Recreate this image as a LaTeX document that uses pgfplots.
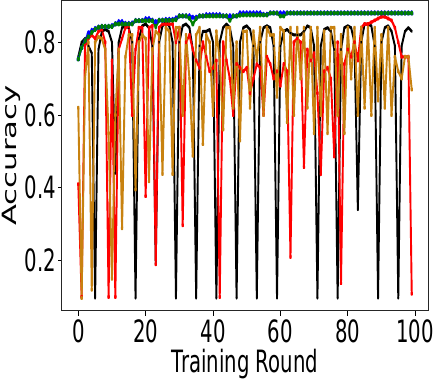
\documentclass[border=0pt]{standalone}
\usepackage{fontspec}
\setmainfont{DejaVu Sans}
\usepackage{graphicx}
\usepackage{pgfplots}
\usepackage{pgfplotstable}
\pgfplotsset{compat=1.18}
\definecolor{gold}{RGB}{200,130,16}

\pgfplotstableread{
i blue green black red orange
0 0.754 0.754 0.76 0.41 0.62
1 0.785 0.785 0.80 0.10 0.097
2 0.804 0.804 0.81 0.79 0.70
3 0.825 0.815 0.79 0.81 0.80
4 0.832 0.827 0.77 0.82 0.12
5 0.837 0.835 0.097 0.81 0.80
6 0.841 0.841 0.78 0.83 0.815
7 0.843 0.843 0.83 0.835 0.81
8 0.843 0.843 0.835 0.80 0.78
9 0.843 0.843 0.83 0.10 0.55
10 0.845 0.843 0.80 0.75 0.15
11 0.85 0.85 0.44 0.10 0.60
12 0.856 0.85 0.80 0.78 0.78
13 0.856 0.85 0.84 0.81 0.289
14 0.851 0.85 0.845 0.84 0.76
15 0.851 0.85 0.84 0.845 0.82
16 0.852 0.85 0.80 0.60 0.82
17 0.859 0.859 0.097 0.78 0.395
18 0.859 0.859 0.81 0.84 0.80
19 0.859 0.859 0.845 0.84 0.82
20 0.864 0.859 0.85 0.377 0.81
21 0.864 0.859 0.84 0.84 0.418
22 0.86 0.859 0.79 0.845 0.78
23 0.856 0.843 0.19 0.19 0.83
24 0.86 0.86 0.80 0.84 0.82
25 0.86 0.86 0.845 0.85 0.438
26 0.862 0.86 0.855 0.85 0.84
27 0.862 0.86 0.845 0.85 0.83
28 0.862 0.86 0.80 0.85 0.438
29 0.866 0.862 0.097 0.80 0.84
30 0.872 0.872 0.80 0.84 0.84
31 0.872 0.872 0.845 0.297 0.60
32 0.872 0.872 0.85 0.80 0.82
33 0.872 0.866 0.84 0.82 0.70
34 0.868 0.85 0.78 0.78 0.488
35 0.868 0.865 0.097 0.75 0.82
36 0.872 0.872 0.79 0.73 0.84
37 0.872 0.872 0.83 0.80 0.52
38 0.875 0.872 0.83 0.76 0.82
39 0.875 0.872 0.835 0.72 0.80
40 0.875 0.872 0.80 0.73 0.60
41 0.875 0.872 0.097 0.75 0.83
42 0.875 0.872 0.80 0.10 0.75
43 0.872 0.872 0.84 0.80 0.56
44 0.872 0.872 0.85 0.75 0.84
45 0.872 0.86 0.84 0.70 0.84
46 0.872 0.872 0.79 0.60 0.62
47 0.872 0.872 0.097 0.74 0.80
48 0.88 0.874 0.80 0.73 0.53
49 0.88 0.875 0.84 0.72 0.83
50 0.88 0.875 0.845 0.73 0.83
51 0.88 0.875 0.835 0.66 0.62
52 0.88 0.875 0.79 0.70 0.83
53 0.88 0.875 0.097 0.74 0.75
54 0.88 0.875 0.80 0.73 0.84
55 0.876 0.875 0.84 0.60 0.60
56 0.876 0.875 0.845 0.76 0.84
57 0.88 0.88 0.84 0.74 0.82
58 0.88 0.88 0.79 0.70 0.82
59 0.88 0.88 0.097 0.72 0.65
60 0.88 0.872 0.79 0.68 0.84
61 0.88 0.872 0.83 0.74 0.83
62 0.88 0.88 0.835 0.72 0.58
63 0.88 0.88 0.825 0.21 0.84
64 0.88 0.88 0.82 0.80 0.60
65 0.88 0.88 0.82 0.81 0.84
66 0.88 0.88 0.82 0.80 0.70
67 0.88 0.88 0.83 0.457 0.84
68 0.88 0.88 0.845 0.78 0.62
69 0.88 0.88 0.84 0.75 0.84
70 0.88 0.88 0.79 0.77 0.55
71 0.88 0.88 0.097 0.66 0.84
72 0.88 0.88 0.79 0.438 0.60
73 0.88 0.88 0.835 0.72 0.83
74 0.88 0.88 0.84 0.73 0.55
75 0.88 0.88 0.83 0.70 0.84
76 0.88 0.88 0.78 0.486 0.84
77 0.88 0.88 0.097 0.80 0.60
78 0.88 0.88 0.78 0.138 0.82
79 0.88 0.88 0.84 0.74 0.55
80 0.88 0.88 0.845 0.78 0.84
81 0.88 0.88 0.84 0.76 0.70
82 0.88 0.88 0.80 0.80 0.84
83 0.88 0.88 0.34 0.75 0.60
84 0.88 0.88 0.80 0.84 0.84
85 0.88 0.88 0.85 0.85 0.62
86 0.88 0.88 0.85 0.85 0.84
87 0.88 0.88 0.845 0.855 0.60
88 0.88 0.88 0.79 0.86 0.84
89 0.88 0.88 0.097 0.865 0.64
90 0.88 0.88 0.80 0.87 0.82
91 0.88 0.88 0.84 0.87 0.62
92 0.88 0.88 0.845 0.865 0.84
93 0.88 0.88 0.83 0.86 0.60
94 0.88 0.88 0.79 0.84 0.76
95 0.88 0.88 0.097 0.80 0.72
96 0.88 0.88 0.79 0.76 0.70
97 0.88 0.88 0.83 0.76 0.76
98 0.88 0.88 0.84 0.76 0.76
99 0.88 0.88 0.83 0.109 0.67
}\acc

\begin{document}
\scalebox{0.64}[1]{%
\begin{tikzpicture}
\begin{axis}[
    scale only axis,
    width=578pt,
    height=313pt,
    xmin=-4.95, xmax=103.95,
    ymin=0.062, ymax=0.915,
    xtick={0,20,40,60,80,100},
    ytick={0.2,0.4,0.6,0.8},
    yticklabel style={/pgf/number format/fixed, /pgf/number format/precision=1},
    /pgf/number format/assume math mode=true,
    tick label style={font=\fontsize{31}{37}\selectfont},
    label style={font=\fontsize{31}{37}\selectfont},
    xlabel={Training Round},
    ylabel={Accuracy},
    tick align=outside,
    xtick pos=left,
    ytick pos=left,
    major tick length=5pt,
    tick style={black, line width=0.8pt},
    axis line style={line width=0.8pt, black!85},
    every axis plot/.append style={line width=3pt, line join=round},
]
\addplot[black, mark=x, mark size=1.4pt, mark options={line width=1pt}] table[x=i, y=black] {\acc};
\addplot[red, mark=*, mark size=0.8pt] table[x=i, y=red] {\acc};
\addplot[gold, mark=*, mark size=0.8pt] table[x=i, y=orange] {\acc};
\addplot[blue, mark=triangle*, mark size=1.5pt] table[x=i, y=blue] {\acc};
\addplot[green!50!black, mark=*, mark size=1.3pt] table[x=i, y=green] {\acc};
\end{axis}
\end{tikzpicture}}
\end{document}
